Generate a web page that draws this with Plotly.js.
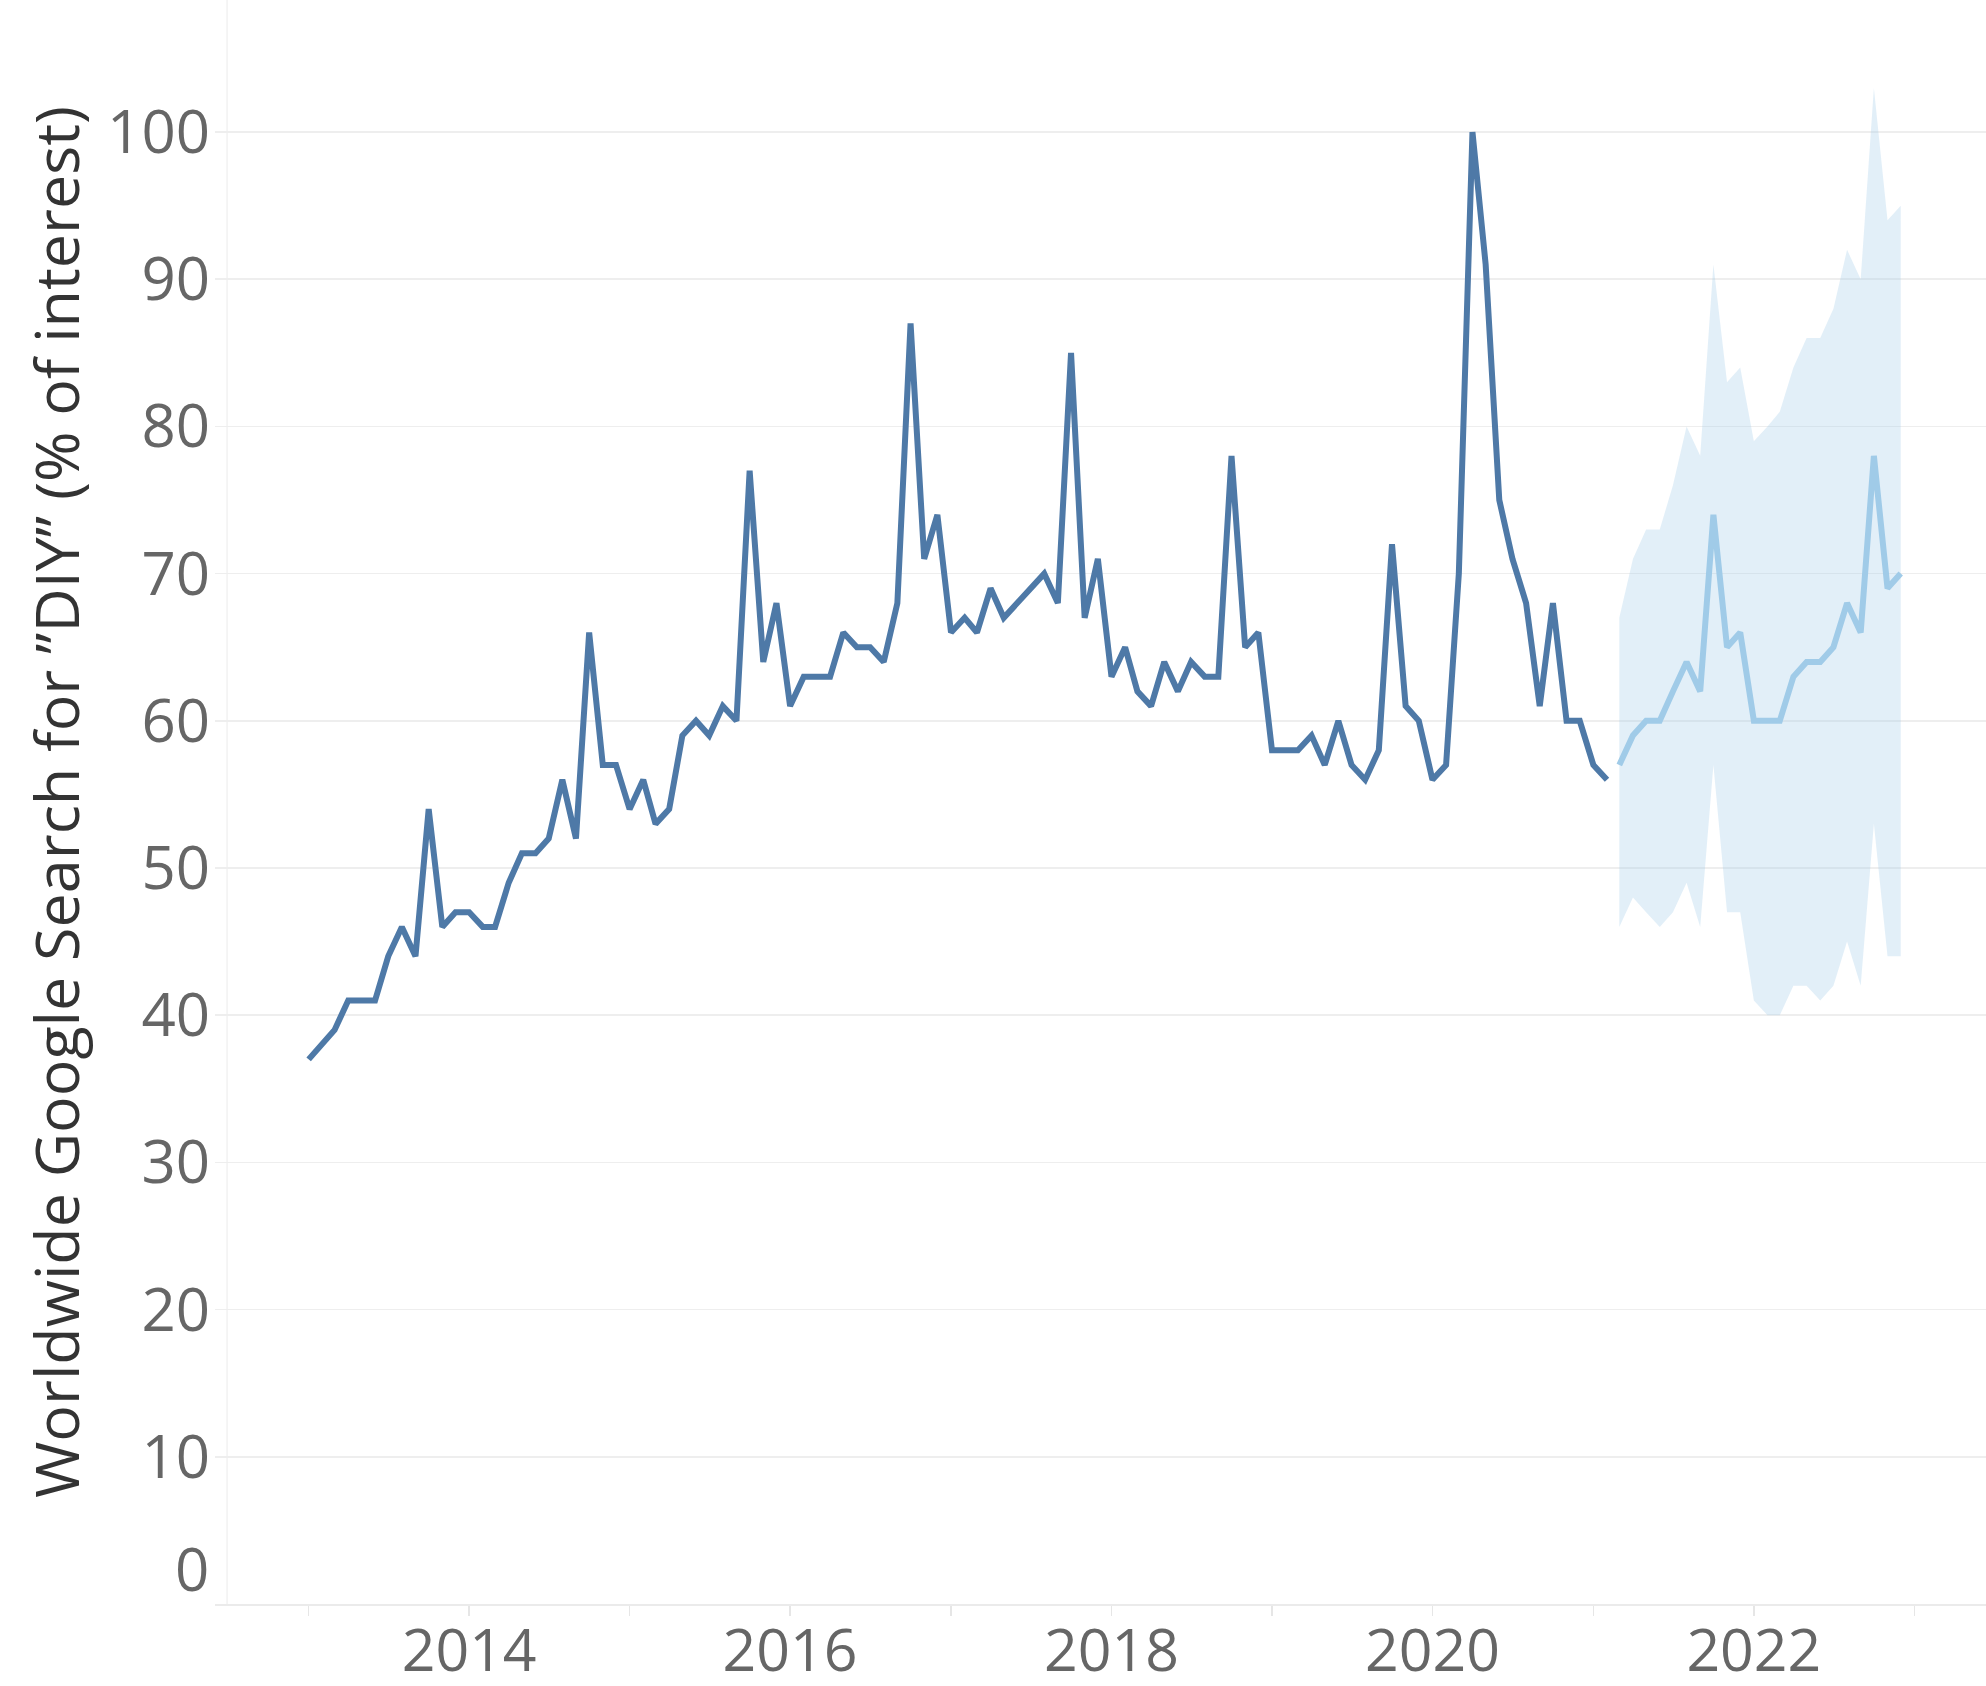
<!DOCTYPE html>
<html>
<head>
<meta charset="utf-8">
<script src="https://cdn.plot.ly/plotly-3.0.1.min.js"></script>
<style>
  html, body { margin: 0; padding: 0; background: #ffffff; }
  #chart { width: 1986px; height: 1686px; }
</style>
</head>
<body>
<div id="chart"></div>
<script>
// ---- Data (monthly Google Trends interest for "DIY") ----
const actualStart = [2013, 1];   // first month of the observed series
const actualValues = [
  37, 38, 39, 41, 41, 41, 44, 46, 44, 54, 46, 47,   // 2013
  47, 46, 46, 49, 51, 51, 52, 56, 52, 66, 57, 57,   // 2014
  54, 56, 53, 54, 59, 60, 59, 61, 60, 77, 64, 68,   // 2015
  61, 63, 63, 63, 66, 65, 65, 64, 68, 87, 71, 74,   // 2016
  66, 67, 66, 69, 67, 68, 69, 70, 68, 85, 67, 71,   // 2017
  63, 65, 62, 61, 64, 62, 64, 63, 63, 78, 65, 66,   // 2018
  58, 58, 58, 59, 57, 60, 57, 56, 58, 72, 61, 60,   // 2019
  56, 57, 70, 100, 91, 75, 71, 68, 61, 68, 60, 60,  // 2020
  57, 56                                            // 2021 Jan-Feb
];
const forecastStart = [2021, 3];
const forecastValues = [
  57, 59, 60, 60, 62, 64, 62, 74, 65, 66,
  60, 60, 60, 63, 64, 64, 65, 68, 66, 78, 69, 70
];
const forecastUpper = [
  67, 71, 73, 73, 76, 80, 78, 91, 83, 84,
  79, 80, 81, 84, 86, 86, 88, 92, 90, 103, 94, 95
];
const forecastLower = [
  46, 48, 47, 46, 47, 49, 46, 57, 47, 47,
  41, 40, 40, 42, 42, 41, 42, 45, 42, 53, 44, 44
];
const yearTicks = [2013, 2014, 2015, 2016, 2017, 2018, 2019, 2020, 2021, 2022, 2023];
const yearLabels = ['', '2014', '', '2016', '', '2018', '', '2020', '', '2022', ''];
const yTicks = [0, 10, 20, 30, 40, 50, 60, 70, 80, 90, 100];
const yLabels = ['', '10', '20', '30', '40', '50', '60', '70', '80', '90', '100'];
const yTitle = 'Worldwide Google Search for \u201DDIY\u201D (% of interest)';

// ---- helpers ----
function monthSeq(start, n) {
  const out = [];
  let y = start[0], m = start[1];
  for (let i = 0; i < n; i++) {
    out.push(y + '-' + String(m).padStart(2, '0') + '-01');
    m++; if (m > 12) { m = 1; y++; }
  }
  return out;
}
const actualDates = monthSeq(actualStart, actualValues.length);
const forecastDates = monthSeq(forecastStart, forecastValues.length);

const FONT = 'Open Sans, Lato, sans-serif';

const traces = [
  { x: forecastDates, y: forecastLower, type: 'scatter', mode: 'lines',
    line: { width: 0, color: 'rgba(160,203,232,0)' }, hoverinfo: 'skip', showlegend: false },
  { x: forecastDates, y: forecastUpper, type: 'scatter', mode: 'lines',
    fill: 'tonexty', fillcolor: 'rgba(160,203,232,0.30)',
    line: { width: 0, color: 'rgba(160,203,232,0)' }, hoverinfo: 'skip', showlegend: false },
  { x: forecastDates, y: forecastValues, type: 'scatter', mode: 'lines',
    line: { width: 6, color: '#a0cbe8' }, showlegend: false },
  { x: actualDates, y: actualValues, type: 'scatter', mode: 'lines',
    line: { width: 6, color: '#4e79a7' }, showlegend: false }
];

const layout = {
  width: 1986, height: 1686,
  margin: { l: 215, r: 0, t: 0, b: 82 },
  paper_bgcolor: '#ffffff', plot_bgcolor: '#ffffff',
  font: { family: FONT, color: '#666666' },
  showlegend: false,
  xaxis: {
    type: 'date',
    range: ['2012-06-02', '2023-06-13'],
    tickvals: yearTicks.map(y => y + '-01-01'),
    ticktext: yearLabels,
    ticks: 'outside', ticklen: 10, tickwidth: 1.5, tickcolor: '#e6e6e6',
    showgrid: false, zeroline: false,
    showline: true, linecolor: '#ebebeb', linewidth: 2,
    tickfont: { family: FONT, size: 59, color: '#666666' },
    ticklabelstandoff: -16
  },
  yaxis: {
    range: [0, 108.97],
    tickvals: yTicks, ticktext: yLabels,
    ticks: '', showline: false, zeroline: false,
    showgrid: true, gridcolor: '#eeeeee', gridwidth: 1.5,
    tickfont: { family: FONT, size: 60, color: '#666666' },
    ticklabelstandoff: 4,
    title: { text: yTitle, font: { family: FONT, size: 61, color: '#333333' }, standoff: 7 }
  },
  shapes: [
    { type: 'line', xref: 'paper', yref: 'paper', x0: 0.0068, x1: 0.0068, y0: 0, y1: 1,
      line: { color: '#f2f2f2', width: 1.5 }, layer: 'below' }
  ],
  annotations: [
    { text: '0', xref: 'paper', yref: 'y', x: 0, y: 0, xanchor: 'right', yanchor: 'middle',
      xshift: -4, yshift: 36, showarrow: false,
      font: { family: FONT, size: 60, color: '#666666' } }
  ]
};

Plotly.newPlot('chart', traces, layout, { displayModeBar: false, staticPlot: true });
</script>
</body>
</html>
